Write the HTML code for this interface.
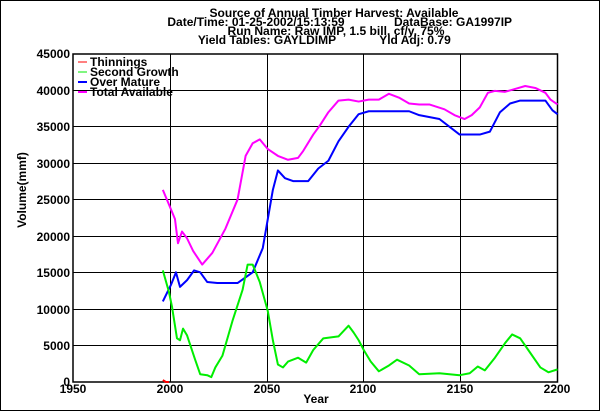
<!DOCTYPE html><html><head><style>body{margin:0;background:#fff}svg{display:block}text{font-family:"Liberation Sans",Arial,sans-serif;font-weight:bold;font-size:12px}</style></head><body>
<svg width="600" height="411" xmlns="http://www.w3.org/2000/svg">
<rect x="0.5" y="0.5" width="599" height="410" fill="#fff" stroke="#000"/>
<g text-anchor="middle" style="font-size:11px">
<text x="334" y="17" textLength="249" lengthAdjust="spacingAndGlyphs">Source of Annual Timber Harvest: Available</text>
<text x="256" y="26">Date/Time: 01-25-2002/15:13:59</text>
<text x="453" y="26">DataBase: GA1997IP</text>
<text x="336" y="35" textLength="217" lengthAdjust="spacingAndGlyphs">Run Name: Raw IMP, 1.5 bill. cf/y, 75%</text>
<text x="267" y="44">Yield Tables: GAYLDIMP</text>
<text x="415" y="44">Yld Adj: 0.79</text>
</g>
<g stroke="#000" stroke-width="1">
<line x1="73" y1="90.5" x2="557" y2="90.5"/><line x1="73" y1="126.5" x2="557" y2="126.5"/><line x1="73" y1="163.5" x2="557" y2="163.5"/><line x1="73" y1="199.5" x2="557" y2="199.5"/><line x1="73" y1="236.5" x2="557" y2="236.5"/><line x1="73" y1="272.5" x2="557" y2="272.5"/><line x1="73" y1="309.5" x2="557" y2="309.5"/><line x1="73" y1="345.5" x2="557" y2="345.5"/>
<line x1="170.5" y1="54" x2="170.5" y2="382"/><line x1="267.5" y1="54" x2="267.5" y2="382"/><line x1="363.5" y1="54" x2="363.5" y2="382"/><line x1="460.5" y1="54" x2="460.5" y2="382"/>
<rect x="73" y="54" width="484.5" height="328" fill="none" stroke-width="1.5"/>
</g>
<g text-anchor="end">
<text x="70" y="58">45000</text><text x="70" y="95">40000</text><text x="70" y="131">35000</text><text x="70" y="168">30000</text><text x="70" y="204">25000</text><text x="70" y="241">20000</text><text x="70" y="277">15000</text><text x="70" y="314">10000</text><text x="70" y="350">5000</text><text x="70" y="386">0</text>
</g>
<g text-anchor="middle">
<text x="73" y="393">1950</text><text x="170" y="393">2000</text><text x="267" y="393">2050</text><text x="363" y="393">2100</text><text x="460" y="393">2150</text><text x="557" y="393">2200</text>
<text x="316" y="403">Year</text>
<text transform="translate(26,190) rotate(-90)">Volume(mmf)</text>
</g>
<g fill="none" stroke-width="2" stroke-linejoin="round" transform="matrix(1.0094,0,0,0.9704,-4.72,10.33)">
<polyline stroke="#ff00ff" vector-effect="non-scaling-stroke" points="166,185 172,200 178,215 181,240 185,228 190,235 196,248 205,262 215,250 228,225 240,195 248,150 255,137 262,133 270,143 280,150 290,154 300,152 305,145 315,128 322,118 330,105 340,93 350,92 360,94 370,92 380,92 390,86 400,90 410,96 420,97 430,97 445,102 455,108 465,112 472,108 480,100 488,85 495,83 505,84 515,81 525,78 535,80 545,85 550,92 557,97"/>
<polyline stroke="#0000ff" vector-effect="non-scaling-stroke" points="166,300 174,283 179,270 183,285 190,278 197,268 203,270 210,280 220,281 240,281 255,270 265,245 270,215 275,185 280,165 287,173 295,176 310,176 320,163 330,155 340,135 350,120 360,107 370,104 385,104 410,104 420,108 440,112 460,128 480,128 490,125 500,105 510,96 520,93 545,93 552,103 557,107"/>
<polyline stroke="#00ee00" vector-effect="non-scaling-stroke" points="166,268 172,290 175,305 180,338 183,340 186,328 190,335 198,360 203,375 210,376 214,378 218,368 225,356 235,320 245,288 250,262 255,262 262,280 270,310 275,340 280,365 285,368 290,362 300,358 308,363 315,350 325,338 340,336 350,325 355,332 360,340 365,350 372,362 380,372 390,366 398,360 410,366 420,375 440,374 460,376 470,374 478,367 485,371 495,358 505,343 512,334 520,338 530,353 540,368 548,373 557,370"/>
<polyline stroke="#ff0000" vector-effect="non-scaling-stroke" points="166,381 169,383 172,383"/>
</g>
<line x1="78" y1="62" x2="87" y2="62" stroke="#ff0000" stroke-width="1"/>
<line x1="78" y1="72" x2="87" y2="72" stroke="#00ee00" stroke-width="1"/>
<line x1="78" y1="82" x2="87" y2="82" stroke="#0000ff" stroke-width="2"/>
<line x1="78" y1="92" x2="87" y2="92" stroke="#ff00ff" stroke-width="2"/>
<text x="90" y="66">Thinnings</text>
<text x="90" y="76">Second Growth</text>
<text x="90" y="86">Over Mature</text>
<text x="90" y="96">Total Available</text>
</svg>
</body></html>
